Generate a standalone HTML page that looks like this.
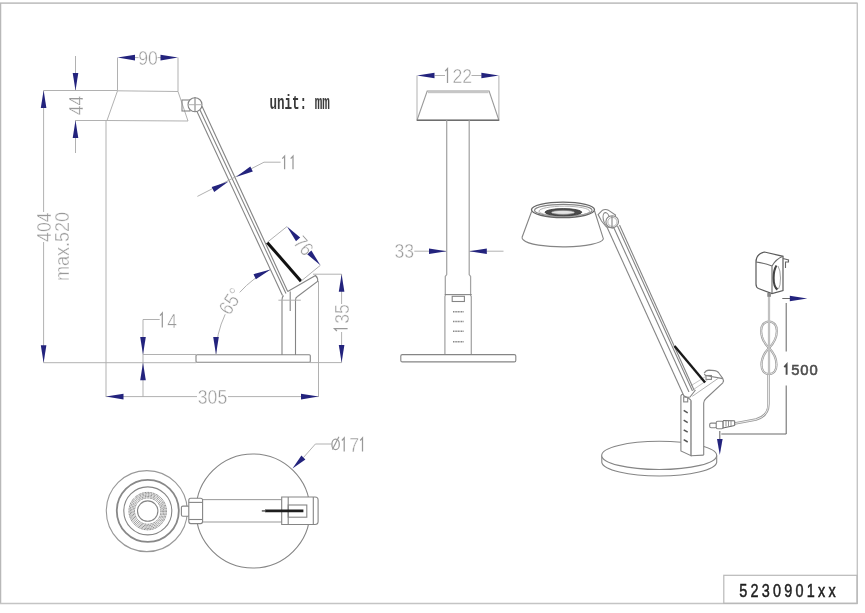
<!DOCTYPE html>
<html><head><meta charset="utf-8"><style>
html,body{margin:0;padding:0;background:#fff;}
svg{display:block;will-change:transform;}
.o{fill:none;stroke:#858585;stroke-width:1.1;}
.ow{fill:#fff;stroke:#858585;stroke-width:1.1;}
.d{fill:none;stroke:#adadad;stroke-width:0.95;}
.dk{fill:none;stroke:#6a6a6a;stroke-width:1.05;}
.t2{fill:none;stroke:#9a9a9a;stroke-width:1.2;}
.t{fill:#999;font-family:"Liberation Sans",sans-serif;stroke:#fff;stroke-width:0.45px;paint-order:fill;}
.lbl{fill:#1e1e1e;stroke:#1e1e1e;stroke-width:0.5px;font-family:"Liberation Sans",sans-serif;font-size:18px;letter-spacing:4.05px;}
.unit{fill:#3a3a3a;font-family:"Liberation Mono",monospace;font-size:20px;font-weight:bold;}
.b15{fill:#4d4d4d;stroke:#4d4d4d;stroke-width:0.55px;font-family:"Liberation Sans",sans-serif;font-size:14.8px;letter-spacing:0.9px;}
</style></head><body>
<svg width="865" height="613" viewBox="0 0 865 613">
<rect width="865" height="613" fill="#fff"/>
<line x1="0" y1="3.2" x2="857.6" y2="3.2" stroke="#c4c4c4" stroke-width="1.8"/>
<line x1="0.6" y1="3" x2="0.6" y2="604" stroke="#b8b8b8" stroke-width="1.3"/>
<line x1="0" y1="603.5" x2="857.6" y2="603.5" stroke="#c4c4c4" stroke-width="1.6"/>
<line x1="857.3" y1="3" x2="857.3" y2="604" stroke="#c4c4c4" stroke-width="1.4"/>
<rect x="723.8" y="575.3" width="133.2" height="28" fill="none" stroke="#b8b8b8" stroke-width="1.2"/>
<g transform="translate(739.3,596.8) scale(0.8,1)"><text x="0" y="0" class="lbl">5230901xx</text></g>
<line x1="117.5" y1="57.6" x2="117.5" y2="90.5" class="d"/>
<line x1="178" y1="57.6" x2="178" y2="91.5" class="d"/>
<line x1="134" y1="57.6" x2="138.5" y2="57.6" class="d"/>
<line x1="157.5" y1="57.6" x2="161" y2="57.6" class="d"/>
<polygon points="117.5,57.6 135.0,54.8 135.0,60.4" fill="#23237d"/>
<polygon points="178.0,57.6 160.5,60.4 160.5,54.8" fill="#23237d"/>
<g transform="translate(148,57.4) rotate(0) scale(0.86,1)"><text x="0" y="7.34" text-anchor="middle" class="t" style="font-size:20.5px">90</text></g>
<line x1="75.5" y1="56" x2="75.5" y2="90.5" class="d"/>
<line x1="75.5" y1="120.5" x2="75.5" y2="153" class="d"/>
<polygon points="75.5,90.5 72.7,73.0 78.3,73.0" fill="#23237d"/>
<polygon points="75.5,120.5 78.3,138.0 72.7,138.0" fill="#23237d"/>
<g transform="translate(75.5,105.5) rotate(-90) scale(0.86,1)"><text x="0" y="7.34" text-anchor="middle" class="t" style="font-size:20.5px">44</text></g>
<line x1="75" y1="120.5" x2="107" y2="120.5" class="d"/>
<line x1="43.6" y1="90.5" x2="117.5" y2="90.5" class="d"/>
<line x1="43.6" y1="90.5" x2="43.6" y2="212" class="d"/>
<line x1="43.6" y1="242" x2="43.6" y2="362.7" class="d"/>
<polygon points="43.6,90.5 46.4,108.0 40.8,108.0" fill="#23237d"/>
<polygon points="43.6,362.7 40.8,345.2 46.4,345.2" fill="#23237d"/>
<g transform="translate(43.5,227.2) rotate(-90) scale(0.86,1)"><text x="0" y="7.34" text-anchor="middle" class="t" style="font-size:20.5px">404</text></g>
<g transform="translate(61.6,246.5) rotate(-90) scale(0.88,1)"><text x="0" y="7.34" text-anchor="middle" class="t" style="font-size:20.5px">max.520</text></g>
<polygon points="117.5,90.8 178,91.5 188,121 107,120.5" class="d"/>
<line x1="106" y1="120.5" x2="106" y2="397" class="d"/>
<rect x="182" y="100" width="8" height="11" class="o"/>
<circle cx="195" cy="104.7" r="7" class="ow"/>
<line x1="195" y1="97" x2="195" y2="112" class="o"/>
<line x1="188" y1="104.7" x2="202" y2="104.7" class="d"/>
<line x1="197" y1="111.4" x2="282.5" y2="295.5" class="o"/>
<line x1="199.9" y1="109.7" x2="286" y2="293.5" class="o"/>
<line x1="201.9" y1="106" x2="287.7" y2="291.4" class="o"/>
<path d="M282,355 L282,300 Q282,297 283.5,295.5" class="o"/>
<path d="M295.5,355 L295.5,300 Q295.5,297.5 297.5,296.5 L317.5,281.5 Q318.5,278.5 315.5,275.5 L287.7,291.4" class="o"/>
<line x1="290.2" y1="291.5" x2="290.2" y2="311" class="o"/>
<line x1="278.4" y1="300.2" x2="300.8" y2="300.2" class="d"/>
<rect x="196" y="354.8" width="114.3" height="7.5" rx="1" class="o"/>
<line x1="267.2" y1="242.4" x2="301" y2="281.2" stroke="#111" stroke-width="3"/>
<line x1="267.2" y1="242.4" x2="287" y2="226.5" class="d"/>
<line x1="301" y1="281.2" x2="320.4" y2="265.3" class="d"/>
<polygon points="287.0,226.5 300.2,237.6 296.0,241.2" fill="#23237d"/>
<polygon points="320.4,265.3 307.2,254.2 311.4,250.6" fill="#23237d"/>
<g transform="translate(303.9,245.4) rotate(49.3) scale(0.86,1)"><text x="0" y="6.98" text-anchor="middle" class="t" style="font-size:19.5px">76</text></g>
<line x1="197.4" y1="196.4" x2="264" y2="162.2" class="d"/>
<line x1="264" y1="162.2" x2="280.6" y2="162.2" class="d"/>
<polygon points="228.5,181.5 214.2,192.0 211.7,187.0" fill="#23237d"/>
<polygon points="236.0,177.0 250.3,166.5 252.8,171.5" fill="#23237d"/>
<path d="M282.3,158.7 L284.6,156.1 L284.6,169.2" fill="none" stroke="#999" stroke-width="1.25"/>
<path d="M290.7,158.7 L293,156.1 L293,169.2" fill="none" stroke="#999" stroke-width="1.25"/>
<path d="M216.0,355.0 A94.5,94.5 0 0 1 225.2,314.3" class="d"/>
<path d="M239.7,292.4 A94.5,94.5 0 0 1 270.6,269.4" class="d"/>
<polygon points="216.0,354.5 213.2,337.0 218.8,337.0" fill="#23237d"/>
<polygon points="270.6,269.4 255.9,279.3 253.5,274.2" fill="#23237d"/>
<g transform="translate(230.5,301) rotate(-57) scale(0.86,1)"><text x="0" y="7.34" text-anchor="middle" class="t" style="font-size:20.5px">65°</text></g>
<line x1="313" y1="274.2" x2="341.6" y2="274.2" class="d"/>
<line x1="310" y1="362.6" x2="341.6" y2="362.6" class="d"/>
<line x1="341.6" y1="274" x2="341.6" y2="304" class="d"/>
<line x1="341.6" y1="332" x2="341.6" y2="362.6" class="d"/>
<polygon points="341.6,274.2 344.4,291.7 338.8,291.7" fill="#23237d"/>
<polygon points="341.6,362.6 338.8,345.1 344.4,345.1" fill="#23237d"/>
<g transform="translate(341.2,314.0) rotate(-90) scale(0.86,1)"><text x="0" y="7.34" text-anchor="middle" class="t" style="font-size:20.5px">35</text></g>
<path d="M336.9,331 L334.5,328.7 L347.6,328.7" fill="none" stroke="#999" stroke-width="1.25"/>
<line x1="318.5" y1="281" x2="318.5" y2="397" class="d"/>
<line x1="106" y1="396.6" x2="197" y2="396.6" class="d"/>
<line x1="228" y1="396.6" x2="318.5" y2="396.6" class="d"/>
<polygon points="106.0,396.6 123.5,393.8 123.5,399.4" fill="#23237d"/>
<polygon points="318.5,396.6 301.0,399.4 301.0,393.8" fill="#23237d"/>
<g transform="translate(212.5,396.6) rotate(0) scale(0.86,1)"><text x="0" y="7.34" text-anchor="middle" class="t" style="font-size:20.5px">305</text></g>
<line x1="143" y1="319.5" x2="159.7" y2="319.5" class="d"/>
<line x1="143" y1="319.5" x2="143" y2="397" class="d"/>
<line x1="143" y1="354.5" x2="196" y2="354.5" class="d"/>
<line x1="43.6" y1="362.7" x2="196" y2="362.7" class="d"/>
<polygon points="143.0,354.5 140.2,337.0 145.8,337.0" fill="#23237d"/>
<polygon points="143.0,362.7 145.8,380.2 140.2,380.2" fill="#23237d"/>
<path d="M160.0,315.6 L162.3,313 L162.3,327.4" fill="none" stroke="#999" stroke-width="1.25"/>
<g transform="translate(172.1,320.2) rotate(0) scale(0.86,1)"><text x="0" y="7.34" text-anchor="middle" class="t" style="font-size:20.5px">4</text></g>
<g transform="translate(269.4,108.8) scale(0.63,1)"><text x="0" y="0" class="unit">unit: mm</text></g>
<line x1="417" y1="75.5" x2="417" y2="120.3" class="d"/>
<line x1="498.9" y1="75.5" x2="498.9" y2="120.3" class="d"/>
<line x1="434.6" y1="75.5" x2="445" y2="75.5" class="d"/>
<line x1="471.5" y1="75.5" x2="481.7" y2="75.5" class="d"/>
<polygon points="417.0,75.5 434.5,72.7 434.5,78.3" fill="#23237d"/>
<polygon points="498.9,75.5 481.4,78.3 481.4,72.7" fill="#23237d"/>
<path d="M445.2,71.2 L447.5,68.6 L447.5,83.1" fill="none" stroke="#999" stroke-width="1.25"/>
<g transform="translate(462.2,75.8) rotate(0) scale(0.86,1)"><text x="0" y="7.34" text-anchor="middle" class="t" style="font-size:20.5px">22</text></g>
<polygon points="427.2,91 489.1,91 498.9,120.3 417,120.3" fill="none" stroke="#9a9a9a" stroke-width="1.1"/>
<rect x="428" y="90.8" width="60.5" height="2.4" fill="#c6c6c6"/>
<line x1="417" y1="120.3" x2="498.9" y2="120.3" stroke="#6e6e6e" stroke-width="1.4"/>
<path d="M446.7,120.3 V274.5 L445.3,276.5 V295.5 L444.9,296.5 V354.6 M469.2,120.3 V274.5 L470.6,276.5 V295.5 L471.3,296.5 V354.6" fill="none" stroke="#a4a4a4" stroke-width="1.25"/>
<line x1="444.8" y1="294.6" x2="471.7" y2="294.6" class="o"/>
<rect x="452.2" y="296.3" width="12.2" height="5.2" class="o"/>
<line x1="453" y1="311.7" x2="463.6" y2="311.7" stroke="#888" stroke-width="1.5" stroke-dasharray="1.1 0.5"/>
<line x1="453" y1="321.5" x2="463.6" y2="321.5" stroke="#888" stroke-width="1.5" stroke-dasharray="1.1 0.5"/>
<line x1="453" y1="331.3" x2="463.6" y2="331.3" stroke="#888" stroke-width="1.5" stroke-dasharray="1.1 0.5"/>
<line x1="453" y1="341.8" x2="463.6" y2="341.8" stroke="#888" stroke-width="1.5" stroke-dasharray="1.1 0.5"/>
<rect x="400.8" y="354.6" width="115" height="7.3" rx="1.5" class="o"/>
<line x1="414.3" y1="251.2" x2="446.5" y2="251.2" class="d"/>
<line x1="469.3" y1="251.2" x2="503.5" y2="251.2" class="d"/>
<polygon points="446.5,251.2 429.0,254.0 429.0,248.4" fill="#23237d"/>
<polygon points="469.3,251.2 486.8,248.4 486.8,254.0" fill="#23237d"/>
<g transform="translate(404.2,250.8) rotate(0) scale(0.86,1)"><text x="0" y="7.34" text-anchor="middle" class="t" style="font-size:20.5px">33</text></g>
<path d="M531.6,211.5 L522.1,237.2 Q521.8,239 523.5,240 A40.4,8.6 0 0 0 603.4,238.9 L594.6,211" class="ow"/>
<ellipse cx="563" cy="209.8" rx="31.5" ry="7.7" fill="#fff" stroke="#666" stroke-width="1.3"/>
<ellipse cx="563.3" cy="210.3" rx="28.8" ry="5.9" class="o"/>
<ellipse cx="564.3" cy="211.2" rx="25.3" ry="5" fill="none" stroke="#aaa" stroke-width="0.9"/>
<ellipse cx="563.4" cy="212.2" rx="18.4" ry="3.6" fill="#4a4a4a" stroke="#333" stroke-width="0.8"/>
<ellipse cx="563" cy="212.4" rx="11.6" ry="2" fill="#e4e4e4" stroke="#888" stroke-width="0.7"/>
<path d="M598.1,214.6 L602.5,210.2 Q605.5,208.6 609,210.6 L615.5,215 L613,228 L606.3,226.8 L601.5,221 Z" class="ow"/>
<ellipse cx="606.5" cy="219" rx="3.2" ry="6.5" transform="rotate(-12 606.5 219)" class="o"/>
<ellipse cx="612.2" cy="221.7" rx="6.3" ry="6" class="ow"/>
<ellipse cx="612.4" cy="221.9" rx="4.6" ry="4.5" fill="none" stroke="#aaa" stroke-width="0.9"/>
<line x1="612" y1="216" x2="612" y2="227.5" class="o"/>
<path d="M601.8,455.4 L601.8,462.4 A57.5,14.2 0 0 0 716.7,462.4 L716.7,455.4" class="ow"/>
<ellipse cx="659.2" cy="455.4" rx="57.5" ry="14.1" class="ow"/>
<path d="M680.9,451 L680.9,396 Q681.5,393.8 684,394.6 L691.1,400.3 L691.1,455.7 Z" class="ow"/>
<path d="M691.1,400.3 L691.1,455.7 L703.7,455.1 L703.7,402 Q703.7,399.5 706,398 L722.5,384.5 Q724.5,382.5 723.5,380 L716.1,372.3 Q713,370 709.5,370.4 Q706,371 704.4,373 L695,387 L691.1,392 Z" fill="#fff" stroke="none"/>
<path d="M691.1,400.3 L691.1,455.7 L703.7,455.1" class="o"/>
<path d="M704.1,373.2 Q706,370.1 709,370.1 L714.8,370.6 Q717,371 718.5,372.5 L722.7,378.4 Q724.2,380.8 722.8,382.8 L706,398.5 Q703.7,400.5 703.7,403 L703.7,455.1" class="o"/>
<path d="M704.3,374 Q705,375.6 707,375.8 L718.8,377.9 Q721,378.3 722.7,378.6" class="o"/>
<path d="M718.8,377.9 L692.3,396.3" class="d"/>
<path d="M690.5,386 L705.5,376.6 M693.5,389.5 L707.5,380" fill="none" stroke="#c4c4c4" stroke-width="1"/>
<rect x="706" y="375.5" width="5.4" height="3.9" class="o"/>
<line x1="683.7" y1="410.40000000000003" x2="687.7" y2="412.8" stroke="#555" stroke-width="1.5"/>
<line x1="683.7" y1="420.2" x2="687.7" y2="422.59999999999997" stroke="#555" stroke-width="1.5"/>
<line x1="683.7" y1="429.8" x2="687.7" y2="432.2" stroke="#555" stroke-width="1.5"/>
<line x1="683.7" y1="439.6" x2="687.7" y2="442.0" stroke="#555" stroke-width="1.5"/>
<rect x="683.7" y="396.9" width="4" height="5" class="o"/>
<line x1="606.5" y1="226" x2="683" y2="394" class="o"/>
<line x1="613.5" y1="227" x2="689" y2="392" class="o"/>
<line x1="617.5" y1="226" x2="692.5" y2="391" class="o"/>
<line x1="619.5" y1="225" x2="694.5" y2="391" class="o"/>
<line x1="674.5" y1="346" x2="705.1" y2="382.5" stroke="#1a1a1a" stroke-width="2.4"/>
<path d="M683,394 Q684,398 690,397 L695.5,390" class="ow"/>
<path d="M734.7,423.5 L756,419.5 Q768.5,416 768.5,404 L768.5,374" fill="none" stroke="#999" stroke-width="2.4"/>
<path d="M734.7,423.5 L756,419.5 Q768.5,416 768.5,404 L768.5,374" fill="none" stroke="#fff" stroke-width="0.8"/>
<path d="M769,348 C759,338 758,322 769,321.6 C780,322 779,338 769,348 C759,358 759,374 769,374 C779,374 779,358 769,348" fill="none" stroke="#999" stroke-width="2.2"/>
<path d="M769,348 C759,338 758,322 769,321.6 C780,322 779,338 769,348 C759,358 759,374 769,374 C779,374 779,358 769,348" fill="none" stroke="#fff" stroke-width="0.7"/>
<line x1="769" y1="294" x2="769" y2="374" stroke="#aaa" stroke-width="2.2"/>
<line x1="769" y1="294" x2="769" y2="374" stroke="#eee" stroke-width="0.7"/>
<rect x="709.7" y="423.1" width="7" height="4.7" rx="1.5" class="ow"/>
<rect x="716.2" y="421.3" width="7" height="7.4" rx="1.5" class="ow"/>
<path d="M723.1,420.6 L734.7,420.8 L734.7,425.5 L723.1,428 Z" fill="#fff" stroke="#666" stroke-width="1"/>
<line x1="726" y1="421" x2="726" y2="426.5" stroke="#777" stroke-width="0.8"/>
<line x1="728.5" y1="421" x2="728.5" y2="426.5" stroke="#777" stroke-width="0.8"/>
<line x1="731" y1="421" x2="731" y2="426.5" stroke="#777" stroke-width="0.8"/>
<path d="M756,262 Q756,254 764.5,252 L783,256.3 L783,290.5 L772,293.5 L758.5,288.5 Q756,287.5 756,284 Z" fill="#fff" stroke="#5a5a5a" stroke-width="1.2"/>
<path d="M756,262 Q764,263 772,266 L772,293.5 M772,266 Q776,259 783,256.3" fill="none" stroke="#6a6a6a" stroke-width="1.1"/>
<path d="M776.5,265.5 Q773.6,270 773.6,278 Q773.6,287 777.5,289.5" fill="none" stroke="#444" stroke-width="2.1"/>
<path d="M778,266 Q780.5,270 780.5,278 Q780.5,286 778.5,289" fill="none" stroke="#999" stroke-width="0.9"/>
<path d="M783,258.5 L788.5,260 L788.5,262 L785.5,262 L785.5,268" fill="none" stroke="#666" stroke-width="1.1"/>
<rect x="767.3" y="293" width="3.6" height="3.8" fill="#888"/>
<line x1="782.3" y1="298.5" x2="790.6" y2="298.5" class="dk"/>
<polygon points="807.3,298.5 789.8,301.3 789.8,295.7" fill="#23237d"/>
<line x1="786.2" y1="302.9" x2="786.2" y2="351.5" class="dk"/>
<line x1="786.2" y1="385.6" x2="786.2" y2="434" class="dk"/>
<line x1="786.2" y1="434" x2="721.3" y2="434" class="dk"/>
<line x1="719.8" y1="431" x2="719.8" y2="440" class="dk"/>
<polygon points="719.8,455.0 717.0,439.0 722.6,439.0" fill="#23237d"/>
<path d="M784.3,367.2 L786.6,364.6 L786.6,374.7" fill="none" stroke="#4d4d4d" stroke-width="1.9"/>
<text x="791.2" y="374.6" class="b15">500</text>
<circle cx="253" cy="511" r="57" class="o"/>
<circle cx="146.8" cy="511.1" r="40.5" fill="#fff" stroke="#999" stroke-width="1.1"/>
<circle cx="147.8" cy="510.9" r="31" fill="none" stroke="#888" stroke-width="1.8"/>
<circle cx="147.8" cy="510.9" r="24" class="o"/>
<circle cx="147.7" cy="511.1" r="13.2" fill="none" stroke="#666" stroke-width="1" stroke-dasharray="1 0.6"/>
<circle cx="147.7" cy="511.1" r="14.6" fill="none" stroke="#666" stroke-width="1" stroke-dasharray="1 0.6"/>
<circle cx="147.7" cy="511.1" r="16.0" fill="none" stroke="#666" stroke-width="1" stroke-dasharray="1 0.6"/>
<circle cx="147.7" cy="511.1" r="17.4" fill="none" stroke="#666" stroke-width="1" stroke-dasharray="1 0.6"/>
<circle cx="147.7" cy="511.1" r="18.7" fill="none" stroke="#666" stroke-width="1" stroke-dasharray="1 0.6"/>
<circle cx="147.7" cy="511.1" r="10.2" class="o"/>
<rect x="181.4" y="506.1" width="8" height="10.2" rx="1.5" class="ow"/>
<rect x="202" y="499.6" width="80" height="22.4" fill="#fff" stroke="#a0a0a0" stroke-width="1.1"/>
<rect x="188.8" y="498.3" width="13.8" height="25.3" rx="2" class="ow"/>
<line x1="188.8" y1="502.4" x2="202.6" y2="502.4" class="o"/>
<line x1="188.8" y1="519.5" x2="202.6" y2="519.5" class="o"/>
<path d="M281.7,497 L315,497 Q318.1,497 318.1,500 L318.1,521.5 Q318.1,524.5 315,524.5 L281.7,524.5 Z" class="ow"/>
<line x1="288.2" y1="497" x2="288.2" y2="524.5" class="o"/>
<line x1="313.3" y1="497" x2="313.3" y2="524.5" class="o"/>
<rect x="288.2" y="505" width="18.6" height="12.2" class="o"/>
<line x1="265" y1="510.9" x2="303.4" y2="510.9" stroke="#1e1e1e" stroke-width="2.7"/>
<line x1="261.8" y1="510.9" x2="265.5" y2="510.9" stroke="#777" stroke-width="1.8"/>
<line x1="303.4" y1="457.6" x2="315.4" y2="444" class="d"/>
<line x1="315.4" y1="444" x2="331.5" y2="444" class="d"/>
<polygon points="292.5,468.5 301.4,455.6 305.4,459.6" fill="#23237d"/>
<ellipse cx="335.6" cy="444.4" rx="3.7" ry="5.2" fill="none" stroke="#9a9a9a" stroke-width="1.25"/>
<line x1="332.4" y1="449.6" x2="338.9" y2="436.8" class="t2"/>
<path d="M341.9,440.5 L344.2,437.9 L344.2,451.6" fill="none" stroke="#999" stroke-width="1.25"/>
<g transform="translate(354.2,444.8) rotate(0) scale(0.86,1)"><text x="0" y="7.34" text-anchor="middle" class="t" style="font-size:20.5px">7</text></g>
<path d="M360.2,440.5 L362.5,437.9 L362.5,451.6" fill="none" stroke="#999" stroke-width="1.25"/>
</svg>
</body></html>
